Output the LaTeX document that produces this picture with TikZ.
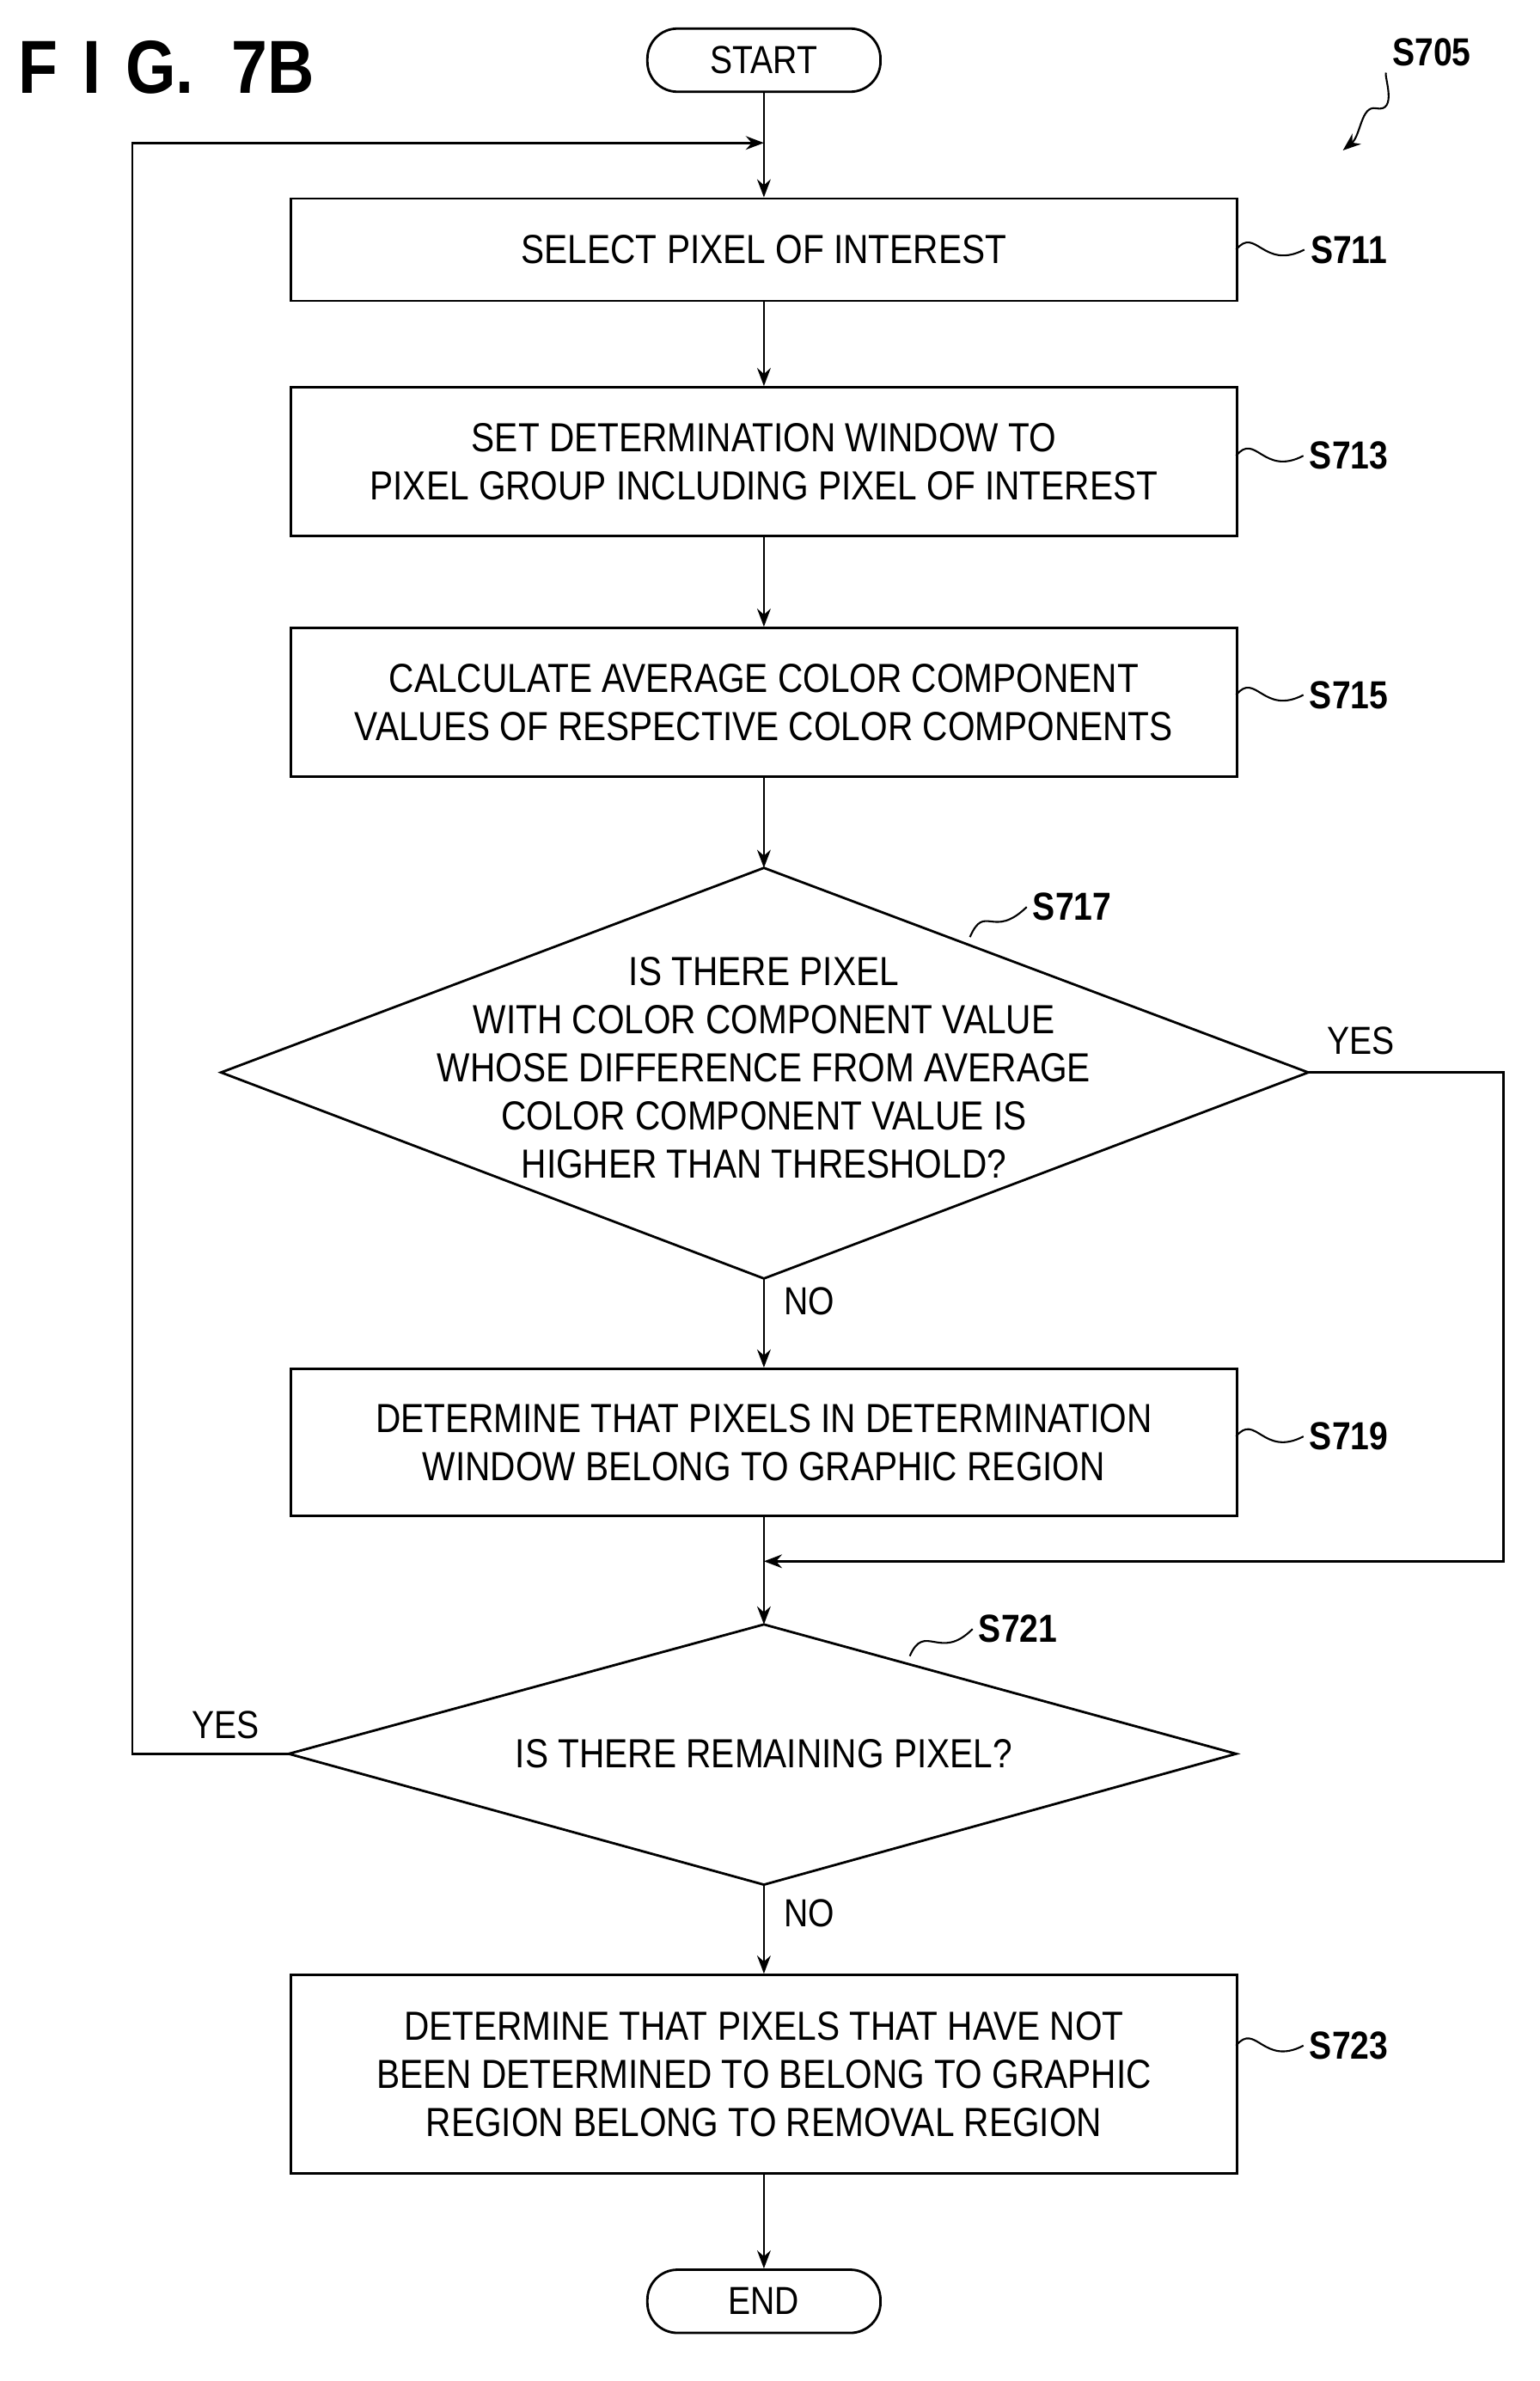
\documentclass[tikz,border=0pt]{standalone}
\usepackage{fontspec}
\setmainfont{Liberation Sans}[FakeStretch=0.86]
\usetikzlibrary{shapes.geometric,arrows.meta}
\begin{document}
\begin{tikzpicture}[x=1pt,y=-1pt,line width=1.6pt,
  box/.style={draw,rectangle,minimum width=629pt,align=center,font=\fontsize{27}{32}\selectfont},
  pill/.style={draw,rounded corners=20pt,minimum width=155pt,minimum height=42pt,font=\fontsize{26}{30}\selectfont},
  lab/.style={font=\bfseries\fontsize{26}{30}\selectfont},
  arr/.style={-{Stealth[length=12pt,width=9pt]}},
  sq/.style={line width=1.2pt}]
\useasboundingbox (0,0) rectangle (1024,1583);
\node[font=\bfseries\fontsize{50}{50}\selectfont,anchor=west] (title) at (8,45) {F\,\,I\,\,G.\,\,\,7B};
\node[pill] (start) at (508,40) {START};
\node[box,minimum height=68pt] (s711) at (508,166) {SELECT PIXEL OF INTEREST};
\node[box,minimum height=99pt] (s713) at (508,307) {SET DETERMINATION WINDOW TO\\PIXEL GROUP INCLUDING PIXEL OF INTEREST};
\node[box,minimum height=99pt] (s715) at (508,467) {CALCULATE AVERAGE COLOR COMPONENT\\VALUES OF RESPECTIVE COLOR COMPONENTS};
\coordinate (d1t) at (508,577); \coordinate (d1b) at (508,850);
\coordinate (d1l) at (147,713); \coordinate (d1r) at (870,713);
\draw (d1t) -- (d1r) -- (d1b) -- (d1l) -- cycle;
\node[align=center,font=\fontsize{27}{32}\selectfont] (d1) at (508,710) {IS THERE PIXEL\\WITH COLOR COMPONENT VALUE\\WHOSE DIFFERENCE FROM AVERAGE\\COLOR COMPONENT VALUE IS\\HIGHER THAN THRESHOLD?};
\node[box,minimum height=98pt] (s719) at (508,959) {DETERMINE THAT PIXELS IN DETERMINATION\\WINDOW BELONG TO GRAPHIC REGION};
\coordinate (d2t) at (508,1080); \coordinate (d2b) at (508,1253);
\coordinate (d2l) at (192,1166); \coordinate (d2r) at (822,1166);
\draw (d2t) -- (d2r) -- (d2b) -- (d2l) -- cycle;
\node[font=\fontsize{27}{32}\selectfont] (d2) at (508,1166) {IS THERE REMAINING PIXEL?};
\node[box,minimum height=132pt] (s723) at (508,1379) {DETERMINE THAT PIXELS THAT HAVE NOT\\BEEN DETERMINED TO BELONG TO GRAPHIC\\REGION BELONG TO REMOVAL REGION};
\node[pill] (end) at (508,1530) {END};
\coordinate (loop) at (508,95);
\coordinate (merge) at (508,1038);
\draw (start) -- (loop);
\draw[arr] (loop) -- (s711);
\draw[arr] (s711) -- (s713);
\draw[arr] (s713) -- (s715);
\draw[arr] (s715) -- (d1t);
\draw[arr] (d1b) -- (s719);
\draw (s719) -- (merge);
\draw[arr] (merge) -- (d2t);
\draw[arr] (d2b) -- (s723);
\draw[arr] (s723) -- (end);
\draw[arr] (d1r) -- (1000,713) -- (1000,1038) -- (merge);
\draw[arr] (d2l) -- (88,1166) -- (88,95) -- (loop);
\node[font=\fontsize{26}{30}\selectfont] (yes1) at (905,692) {YES};
\node[font=\fontsize{26}{30}\selectfont] (no1) at (538,865) {NO};
\node[font=\fontsize{26}{30}\selectfont] (yes2) at (150,1147) {YES};
\node[font=\fontsize{26}{30}\selectfont] (no2) at (538,1272) {NO};
\node[lab] (l711) at (897,166) {S711};
\node[lab] (l713) at (897,303) {S713};
\node[lab] (l715) at (897,462) {S715};
\node[lab] (l719) at (897,955) {S719};
\node[lab] (l723) at (897,1360) {S723};
\node[lab] (l717) at (713,603) {S717};
\node[lab] (l721) at (677,1083) {S721};
\node[lab] (l705) at (952,35) {S705};
\draw[sq] (822,166) .. controls (835,150) and (840,180) .. (l711.west);
\draw[sq] (822,303) .. controls (835,287) and (840,317) .. (l713.west);
\draw[sq] (822,462) .. controls (835,446) and (840,476) .. (l715.west);
\draw[sq] (822,955) .. controls (835,939) and (840,969) .. (l719.west);
\draw[sq] (822,1360) .. controls (835,1344) and (840,1374) .. (l723.west);
\draw[sq] (645,623) .. controls (655,600) and (660,625) .. (l717.west);
\draw[sq] (605,1101) .. controls (615,1078) and (625,1105) .. (l721.west);
\draw[sq,-{Stealth[length=12pt,width=9pt]}] (l705.south west) .. controls (920,50) and (930,75) .. (915,72) .. controls (905,70) and (905,90) .. (893,100);
\end{tikzpicture}
\end{document}
